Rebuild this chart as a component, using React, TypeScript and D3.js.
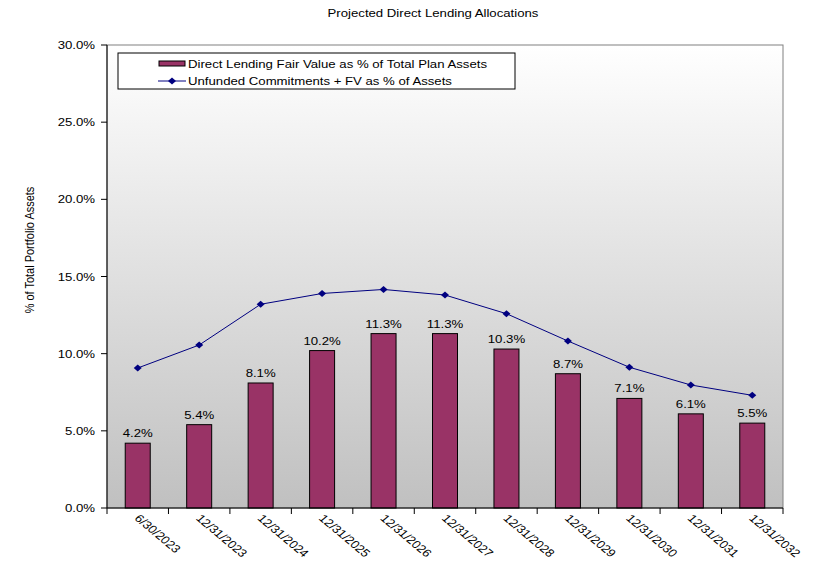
import React, { useEffect, useRef } from 'react';
import * as d3 from 'd3';

const categories = ['6/30/2023', '12/31/2023', '12/31/2024', '12/31/2025', '12/31/2026', '12/31/2027',
    '12/31/2028', '12/31/2029', '12/31/2030', '12/31/2031', '12/31/2032'];
const fairValue = [4.2, 5.4, 8.1, 10.2, 11.3, 11.3, 10.3, 8.7, 7.1, 6.1, 5.5];
const unfunded = [9.07, 10.56, 13.2, 13.9, 14.16, 13.8, 12.59, 10.82, 9.12, 7.97, 7.3];
const yTicks = [0, 5, 10, 15, 20, 25, 30];

export default function App() {
    const svgRef = useRef<SVGSVGElement>(null);

    const width = 813;
    const height = 562;
    const margin = { top: 45, right: 30, bottom: 54, left: 107 };
    const innerWidth = width - margin.left - margin.right;
    const innerHeight = height - margin.top - margin.bottom;
    const font = 'Liberation Sans, Arial, sans-serif';
    // the text in the original looks stretched sideways
    const sx = 1.2;

    useEffect(() => {
        const svg = d3.select(svgRef.current);
        svg.selectAll('*').remove();

        const addText = (parent: any, x: number, y: number, txt: string, anchor = 'start', extra = '') =>
            parent.append('text')
                .attr('transform', `translate(${x}, ${y}) scale(${sx}, 1) ${extra}`)
                .attr('text-anchor', anchor)
                .style('font-family', font)
                .style('font-size', '11px')
                .attr('fill', '#000')
                .text(txt);

        const defs = svg.append('defs');
        const grad = defs.append('linearGradient')
            .attr('id', 'bg')
            .attr('x1', 0).attr('y1', 0).attr('x2', 0).attr('y2', 1);
        grad.append('stop').attr('offset', '0%').attr('stop-color', '#ffffff');
        grad.append('stop').attr('offset', '100%').attr('stop-color', '#c0c0c0');

        addText(svg, 433, 17, 'Projected Direct Lending Allocations', 'middle');

        const g = svg.append('g')
            .attr('transform', `translate(${margin.left}, ${margin.top})`);

        const x = d3.scaleBand()
            .domain(categories)
            .range([0, innerWidth])
            .padding(0);

        const y = d3.scaleLinear()
            .domain([0, 30])
            .range([innerHeight, 0]);

        // plot area
        g.append('rect')
            .attr('width', innerWidth)
            .attr('height', innerHeight)
            .attr('fill', 'url(#bg)')
            .attr('stroke', '#808080')
            .attr('stroke-width', 1);

        const cx = (i: number) => x(categories[i])! + x.bandwidth() / 2;

        // bars
        const barW = 25;
        g.selectAll('.bar')
            .data(fairValue)
            .enter()
            .append('rect')
            .attr('x', (d, i) => cx(i) - barW / 2)
            .attr('y', d => y(d))
            .attr('width', barW)
            .attr('height', d => innerHeight - y(d))
            .attr('fill', '#993366')
            .attr('stroke', '#000')
            .attr('stroke-width', 1);

        fairValue.forEach((d, i) => {
            addText(g, cx(i), y(d) - 6, d.toFixed(1) + '%', 'middle');
        });

        // line
        const line = d3.line<number>()
            .x((d, i) => cx(i))
            .y(d => y(d));

        g.append('path')
            .datum(unfunded)
            .attr('d', line)
            .attr('fill', 'none')
            .attr('stroke', '#000080')
            .attr('stroke-width', 1);

        const diamond = 'M0,-3.5L4,0L0,3.5L-4,0Z';
        g.selectAll('.pt')
            .data(unfunded)
            .enter()
            .append('path')
            .attr('d', diamond)
            .attr('transform', (d, i) => `translate(${cx(i)}, ${y(d)})`)
            .attr('fill', '#000080');

        // y axis
        g.append('line')
            .attr('x1', 0).attr('x2', 0)
            .attr('y1', 0).attr('y2', innerHeight)
            .attr('stroke', '#000');
        yTicks.forEach(t => {
            g.append('line')
                .attr('x1', -6).attr('x2', 0)
                .attr('y1', y(t)).attr('y2', y(t))
                .attr('stroke', '#000');
            addText(g, -12, y(t) + 4, t.toFixed(1) + '%', 'end');
        });

        // x axis
        const xG = g.append('g').attr('transform', `translate(0, ${innerHeight})`);
        xG.append('line')
            .attr('x1', 0).attr('x2', innerWidth)
            .attr('stroke', '#000');
        xG.selectAll('.tk')
            .data(d3.range(categories.length + 1))
            .enter()
            .append('line')
            .attr('x1', i => i * x.step())
            .attr('x2', i => i * x.step())
            .attr('y1', 0)
            .attr('y2', 6)
            .attr('stroke', '#000');
        categories.forEach((c, i) => {
            addText(xG, cx(i) - 4, 11, c, 'start', 'rotate(45)');
        });

        // y title
        addText(svg, 34, margin.top + 205, '% of Total Portfolio Assets', 'middle', 'rotate(-90)');

        // legend
        const lg = svg.append('g').attr('transform', 'translate(118, 53)');
        lg.append('rect')
            .attr('width', 397)
            .attr('height', 36)
            .attr('fill', '#fff')
            .attr('stroke', '#000');
        lg.append('rect')
            .attr('x', 41).attr('y', 8)
            .attr('width', 26).attr('height', 5)
            .attr('fill', '#993366')
            .attr('stroke', '#000');
        addText(lg, 70, 15, 'Direct Lending Fair Value as % of Total Plan Assets');
        lg.append('line')
            .attr('x1', 40).attr('x2', 68)
            .attr('y1', 28).attr('y2', 28)
            .attr('stroke', '#000080');
        lg.append('path')
            .attr('d', diamond)
            .attr('transform', 'translate(54, 28)')
            .attr('fill', '#000080');
        addText(lg, 70, 32, 'Unfunded Commitments + FV as % of Assets');
    }, []);

    return (
        <svg ref={svgRef} width={width} height={height}
            style={{ position: 'absolute', left: 0, top: 0 }}></svg>
    );
}
